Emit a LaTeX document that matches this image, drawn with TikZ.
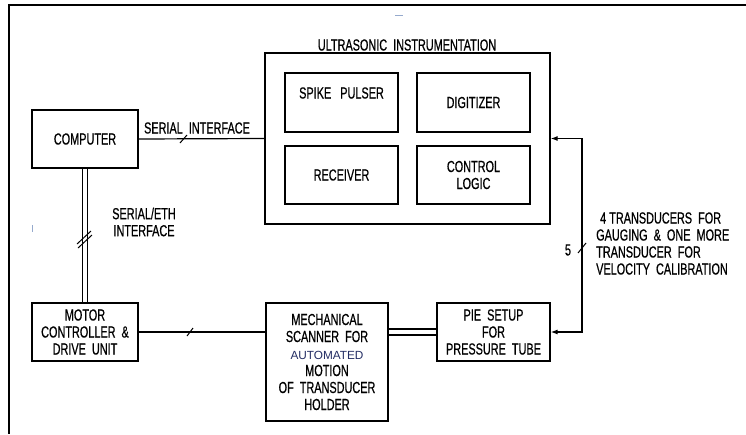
\documentclass[tikz,border=0pt]{standalone}
\usepackage{fontspec}
\setmainfont[FakeStretch=0.68,FakeBold=0.6]{Liberation Sans}
\newfontfamily\autofont{Liberation Sans}
\usetikzlibrary{arrows.meta}
\definecolor{navytext}{RGB}{35,45,100}
\definecolor{artifact}{RGB}{150,170,205}
\tikzset{
  blk/.style={draw, line width=1.2pt, inner sep=0pt, align=center,
              font=\fontsize{16}{17}\selectfont},
  lbl/.style={inner sep=0pt, align=center, font=\fontsize{16}{17}\selectfont},
  conn/.style={line width=1.2pt},
  tick/.style={line width=1pt},
  frameline/.style={line width=2.4pt}
}
\begin{document}
\begin{tikzpicture}[x=1pt,y=-1pt]
\useasboundingbox (0,0) rectangle (746,434);
\fill[white] (0,0) rectangle (746,434);
% outer frame
\draw[frameline] (746,5) -- (9,5) -- (9,434);
% small artifacts
\draw[artifact, line width=1pt] (395,15) -- (403,15);
\draw[artifact, line width=1pt] (32,225) -- (32,232);
% ultrasonic instrumentation
\node[blk, minimum width=285pt, minimum height=171pt] (ui) at (407.5,138.5) {};
\node[lbl] (uititle) at (407,45) {ULTRASONIC\ \ INSTRUMENTATION};
\node[blk, minimum width=113pt, minimum height=59pt] (spike) at (341.5,102.5) {};
\node[lbl] (spiket) at (341.5,93) {SPIKE\ \ \ PULSER};
\node[blk, minimum width=113pt, minimum height=59pt] (digit) at (473.5,102.5) {DIGITIZER};
\node[blk, minimum width=113pt, minimum height=58pt] (recv) at (341.5,175) {RECEIVER};
\node[blk, minimum width=113pt, minimum height=58pt] (ctrl) at (473.5,175) {CONTROL\\LOGIC};
% computer
\node[blk, minimum width=106pt, minimum height=58pt] (comp) at (85,139) {COMPUTER};
% motor controller
\node[blk, minimum width=106pt, minimum height=58pt] (motor) at (85,332) {MOTOR\\CONTROLLER\ \ \&\\DRIVE\ \ UNIT};
% mechanical scanner
\node[blk, minimum width=122pt, minimum height=118pt] (mech) at (327,362)
  {MECHANICAL\\SCANNER\ \ FOR\\{\autofont\fontsize{11.8}{17}\selectfont\color{navytext}AUTOMATED}\\MOTION\\OF\ \ TRANSDUCER\\HOLDER};
% PIE setup
\node[blk, minimum width=113pt, minimum height=58pt] (pie) at (493.5,332) {PIE\ \ SETUP\\FOR\\PRESSURE\ \ TUBE};

% serial interface
\draw[conn] (comp.east) -- (ui.west);
\node[lbl] (serlbl) at (197,128) {SERIAL\ \ INTERFACE};
\coordinate (st1) at (180,143);
\coordinate (st2) at (187,135);
\draw[tick] (st1) -- (st2);

% serial/eth double line
\draw[conn] ([xshift=-2.5pt]comp.south) -- ([xshift=-2.5pt]motor.north);
\draw[conn] ([xshift=2.5pt]comp.south) -- ([xshift=2.5pt]motor.north);
\coordinate (dt1a) at (77,244);
\coordinate (dt1b) at (91,231);
\coordinate (dt2a) at (78,248);
\coordinate (dt2b) at (92,235);
\draw[tick] (dt1a) -- (dt1b);
\draw[tick] (dt2a) -- (dt2b);
\node[lbl] (ethlbl) at (144,222) {SERIAL/ETH\\INTERFACE};

% motor to mech
\draw[conn] (motor.east) -- (motor.east -| mech.west);
\coordinate (mt1) at (187,336);
\coordinate (mt2) at (193,328);
\draw[tick] (mt1) -- (mt2);

% mech to pie double
\draw[conn] ([yshift=-3pt]pie.west -| mech.east) -- ([yshift=-3pt]pie.west);
\draw[conn] ([yshift=3pt]pie.west -| mech.east) -- ([yshift=3pt]pie.west);

% transducer bus
\coordinate (bus1) at (582,138.5);
\coordinate (bus2) at (582,332);
\draw[conn, {Latex[length=7pt,width=5pt]}-{Latex[length=7pt,width=5pt]}] (ui.east) -- (bus1) -- (bus2) -- (pie.east);
\coordinate (bt1) at (578,253);
\coordinate (bt2) at (586,243);
\draw[tick] (bt1) -- (bt2);
\node[lbl] (five) at (568,250) {5};
\node[lbl, align=left, anchor=west] (translbl) at (596,243.5)
  {\hspace{4pt}4 TRANSDUCERS\ \ FOR\\GAUGING\ \ \&\ \ ONE\ \ MORE\\TRANSDUCER\ \ FOR\\VELOCITY\ \ CALIBRATION};
\end{tikzpicture}
\end{document}
